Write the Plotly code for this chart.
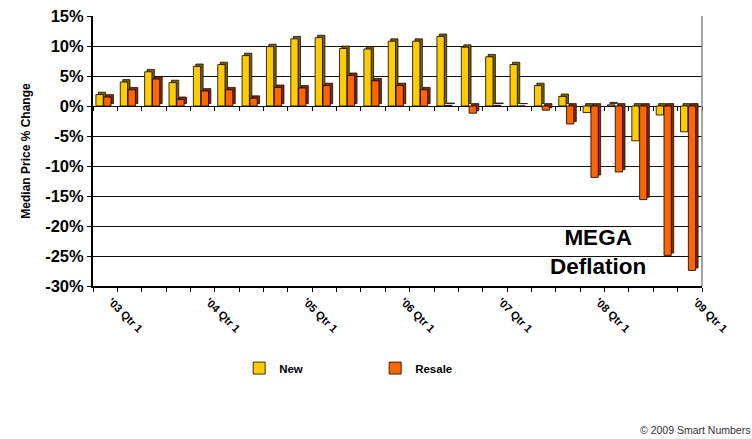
import plotly.graph_objects as go

quarters = []
for yr in ["03", "04", "05", "06", "07", "08"]:
    for q in [1, 2, 3, 4]:
        quarters.append(f"'{yr} Qtr {q}")
quarters.append("'09 Qtr 1")

new_vals = [1.9, 4.0, 5.7, 3.9, 6.6, 6.9, 8.4, 9.9, 11.2, 11.4, 9.6, 9.5,
            10.8, 10.8, 11.6, 9.8, 8.2, 6.9, 3.4, 1.6, -1.1, 0.2, -5.8, -1.5, -4.3]
resale_vals = [1.5, 2.7, 4.5, 1.1, 2.5, 2.7, 1.3, 3.1, 3.0, 3.4, 5.1, 4.2,
               3.4, 2.7, 0.1, -1.2, 0.1, 0.0, -0.7, -3.0, -11.9, -11.0, -15.6, -24.9, -27.4]

tick_labels = [q if q.endswith("Qtr 1") else "" for q in quarters]
y_tickvals = [15, 10, 5, 0, -5, -10, -15, -20, -25, -30]
y_ticktext = ["15%", "10%", "5%", "0%", "-5%", "-10%", "-15%", "-20%", "-25%", "-30%"]

FONT = "Liberation Sans, Arial, sans-serif"
depth_x = 0.1
depth_y = 0.4

fig = go.Figure()

series = [
    ("New", new_vals, "#FFCC00", "#7A6200", -0.38),
    ("Resale", resale_vals, "#FF6600", "#8A2A00", -0.06),
]
for name, vals, face, side, off in series:
    fig.add_trace(go.Bar(
        x=quarters, y=vals, base=[depth_y] * len(vals),
        offset=off + depth_x, width=0.3,
        marker=dict(color=side, line=dict(color="black", width=0.7)),
        showlegend=False, hoverinfo="skip"))
    fig.add_trace(go.Bar(
        x=quarters, y=vals, name=name,
        offset=off, width=0.3,
        marker=dict(color=face, line=dict(color="black", width=0.8))))

# invisible trace carrying the axis drawn at the 0% line
fig.add_trace(go.Scatter(x=quarters, y=new_vals, mode="none", xaxis="x2",
                         showlegend=False, hoverinfo="skip"))

fig.update_layout(
    width=752, height=439,
    margin=dict(l=93, r=50, t=16, b=153, autoexpand=False),
    paper_bgcolor="white", plot_bgcolor="white",
    barmode="overlay",
    font=dict(family=FONT, color="black"),
    xaxis=dict(
        type="category", tickmode="array", tickvals=quarters, ticktext=tick_labels,
        tickangle=45, tickfont=dict(size=11, family=FONT, weight="bold"),
        ticklabelshift=6, ticklabelstandoff=3,
        ticks="outside", ticklen=4, tickson="boundaries", tickcolor="black",
        showline=True, linecolor="black", linewidth=2, automargin=False,
        showgrid=False, zeroline=False),
    xaxis2=dict(
        type="category", overlaying="x", matches="x", anchor="free",
        position=(0 - (-30)) / 45, automargin=False,
        ticks="outside", ticklen=4, tickson="boundaries", tickcolor="black",
        showticklabels=False, showline=False, showgrid=False, zeroline=False),
    yaxis=dict(
        range=[-30, 15], tickmode="array", tickvals=y_tickvals, ticktext=y_ticktext,
        tickfont=dict(size=16.5, family=FONT, weight="bold"),
        ticks="outside", ticklen=4, tickcolor="black", automargin=False,
        showline=True, linecolor="black", linewidth=2,
        showgrid=True, gridcolor="#111111", gridwidth=1, zeroline=False,
        title=dict(text="Median Price % Change", standoff=12,
                   font=dict(size=12, family=FONT, weight="bold"))),
    legend=dict(orientation="h", x=0.24, xanchor="left", y=-0.304, yanchor="middle",
                entrywidth=91, entrywidthmode="pixels", itemwidth=30,
                font=dict(size=11.5, family=FONT, weight="bold")),
    shapes=[dict(type="line", xref="paper", yref="paper", x0=1, x1=1, y0=0, y1=1,
                 line=dict(color="#888888", width=1.5))],
    annotations=[
        dict(text="MEGA<br>Deflation", xref="paper", yref="paper",
             x=(598 - 93) / 609, xanchor="center", y=(286 - 252) / 270, yanchor="middle",
             align="center", showarrow=False,
             font=dict(size=22.5, family=FONT, color="black", weight="bold")),
        dict(text="© 2009 Smart Numbers", xref="paper", yref="paper",
             x=(752 - 93) / 609, xanchor="right", y=(286 - 430) / 270, yanchor="middle",
             showarrow=False, font=dict(size=10.5, family=FONT, color="#333333")),
    ],
)

fig.write_html("out.html", config={"displayModeBar": False},
               post_script="document.body.style.margin='0';document.body.style.padding='0';")
